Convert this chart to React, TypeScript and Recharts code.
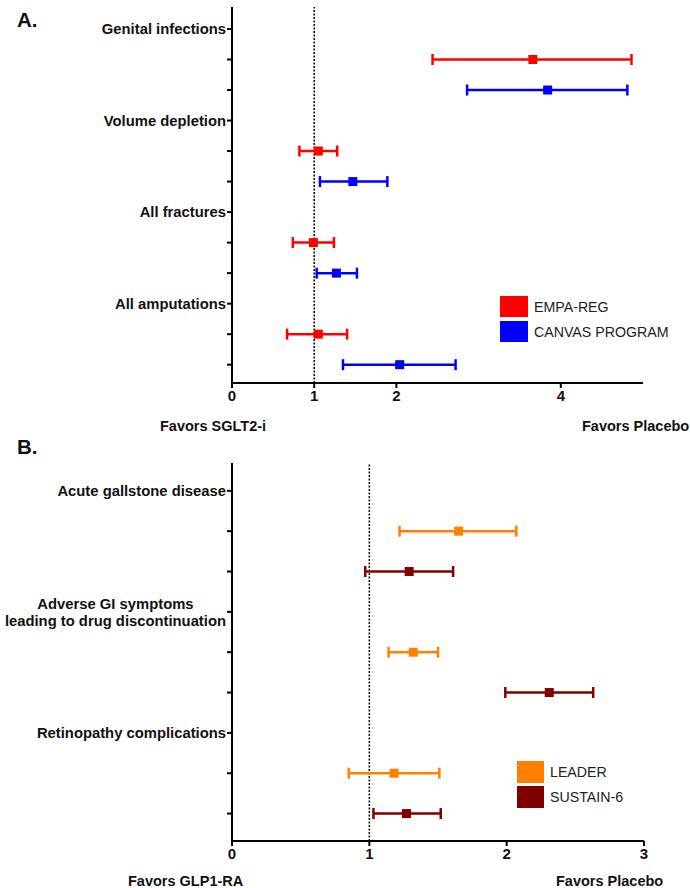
import { ScatterChart, Scatter, XAxis, YAxis, ErrorBar, ReferenceLine } from "recharts";

const FONT = '"Liberation Sans", Arial, sans-serif';
const INK = "#111";

// Panel A: SGLT2 inhibitors (rows counted top to bottom)
const rowsA = [
  "Genital infections", "", "",
  "Volume depletion", "", "",
  "All fractures", "", "",
  "All amputations", "", "",
];
const xTicksA = [0, 1, 2, 4];
const empaRows = [1, 4, 7, 10];
const empaOR = [3.66, 1.05, 0.99, 1.05];
const empaLow = [2.44, 0.82, 0.74, 0.67];
const empaHigh = [4.86, 1.28, 1.24, 1.4];
const canvasRows = [2, 5, 8, 11];
const canvasOR = [3.84, 1.47, 1.27, 2.04];
const canvasLow = [2.86, 1.07, 1.03, 1.35];
const canvasHigh = [4.81, 1.89, 1.52, 2.72];

// Panel B: GLP1 receptor agonists
const rowsB = [
  "Acute gallstone disease", "", "",
  "Adverse GI symptoms\nleading to drug discontinuation", "", "",
  "Retinopathy complications", "", "",
];
const xTicksB = [0, 1, 2, 3];
const leaderRows = [1, 4, 7];
const leaderOR = [1.65, 1.32, 1.18];
const leaderLow = [1.22, 1.14, 0.85];
const leaderHigh = [2.07, 1.5, 1.51];
const sustainRows = [2, 5, 8];
const sustainOR = [1.29, 2.31, 1.27];
const sustainLow = [0.97, 1.99, 1.03];
const sustainHigh = [1.61, 2.63, 1.52];

const toPoints = (rows: number[], or: number[], lo: number[], hi: number[]) =>
  rows.map((row, i) => ({ row, or: or[i], err: [or[i] - lo[i], hi[i] - or[i]] }));

type Series = { name: string; color: string; data: { row: number; or: number; err: number[] }[] };

const seriesA: Series[] = [
  { name: "EMPA-REG", color: "#ff0000", data: toPoints(empaRows, empaOR, empaLow, empaHigh) },
  { name: "CANVAS PROGRAM", color: "#0000ff", data: toPoints(canvasRows, canvasOR, canvasLow, canvasHigh) },
];
const seriesB: Series[] = [
  { name: "LEADER", color: "#ff8000", data: toPoints(leaderRows, leaderOR, leaderLow, leaderHigh) },
  { name: "SUSTAIN-6", color: "#800000", data: toPoints(sustainRows, sustainOR, sustainLow, sustainHigh) },
];

let ctx: CanvasRenderingContext2D | null = null;
function textWidth(s: string, font: string) {
  if (!ctx) ctx = document.createElement("canvas").getContext("2d");
  if (!ctx) return s.length * 8;
  ctx.font = font;
  return ctx.measureText(s).width;
}

const LABEL_SIZE = 14.8;

function RowTick(props: any) {
  const { x, y, payload, labels } = props;
  const text: string = labels[payload.value] ?? "";
  if (!text) return null;
  const lines = text.split("\n");
  const style = { fontSize: LABEL_SIZE, fontWeight: "bold" as const, fill: INK, fontFamily: FONT };
  if (lines.length === 1) {
    return (
      <text x={x} y={y} dy="0.36em" textAnchor="end" {...style}>
        {text}
      </text>
    );
  }
  const w = Math.max(...lines.map((l) => textWidth(l, `bold ${LABEL_SIZE}px ${FONT}`)));
  const cx = x - w / 2;
  const lh = 17;
  const y0 = y - ((lines.length - 1) * lh) / 2;
  return (
    <text textAnchor="middle" {...style}>
      {lines.map((l, i) => (
        <tspan key={i} x={cx} y={y0 + i * lh} dy="0.36em">
          {l}
        </tspan>
      ))}
    </text>
  );
}

function Panel({
  height,
  margin,
  rows,
  xDomain,
  xTicks,
  yDomain,
  series,
}: {
  height: number;
  margin: { top: number; right: number; left: number; bottom: number };
  rows: string[];
  xDomain: [number, number];
  xTicks: number[];
  yDomain: [number, number];
  series: Series[];
}) {
  return (
    <ScatterChart width={690} height={height} margin={margin} style={{ fontFamily: FONT }}>
      <XAxis
        type="number"
        dataKey="or"
        domain={xDomain}
        ticks={xTicks}
        allowDataOverflow
        height={30}
        tickSize={5}
        tickMargin={2}
        axisLine={{ stroke: "#000", strokeWidth: 2 }}
        tickLine={{ stroke: "#000", strokeWidth: 2 }}
        tick={{ fill: INK, fontSize: 15, fontWeight: "bold" }}
      />
      <YAxis
        type="number"
        dataKey="row"
        domain={yDomain}
        ticks={rows.map((_, i) => i)}
        interval={0}
        reversed
        allowDataOverflow
        width={232}
        tickSize={5}
        tickMargin={1}
        axisLine={{ stroke: "#000", strokeWidth: 2 }}
        tickLine={{ stroke: "#000", strokeWidth: 2 }}
        tick={(p: any) => <RowTick {...p} labels={rows} />}
      />
      <ReferenceLine x={1} stroke="#000" strokeWidth={1.5} strokeDasharray="2 1.5" />
      {series.map((s) => (
        <Scatter
          key={s.name}
          name={s.name}
          data={s.data}
          isAnimationActive={false}
          shape={(p: any) => <rect x={p.cx - 4.5} y={p.cy - 4.5} width={9} height={9} fill={s.color} />}
        >
          <ErrorBar
            dataKey="err"
            direction="x"
            width={5.5}
            strokeWidth={2.5}
            stroke={s.color}
            isAnimationActive={false}
          />
        </Scatter>
      ))}
    </ScatterChart>
  );
}

function Legend({ series, left, top, box }: { series: Series[]; left: number; top: number; box: [number, number] }) {
  return (
    <div style={{ position: "absolute", left, top }}>
      {series.map((s) => (
        <div key={s.name} style={{ display: "flex", alignItems: "center", height: 25 }}>
          <div style={{ width: box[0], height: box[1], background: s.color }} />
          <span style={{ marginLeft: 6, fontSize: 14.2, color: "#222", fontFamily: FONT }}>{s.name}</span>
        </div>
      ))}
    </div>
  );
}

const bold = (size: number) => ({
  position: "absolute" as const,
  fontFamily: FONT,
  fontWeight: "bold" as const,
  fontSize: size,
  color: INK,
  whiteSpace: "nowrap" as const,
});

export default function App() {
  return (
    <div style={{ position: "absolute", left: 0, top: 0, width: 690, height: 888, background: "#fff", overflow: "hidden" }}>
      <div style={{ position: "absolute", left: 0, top: 0 }}>
        <Panel
          height={440}
          margin={{ top: 7, right: 47, left: 0, bottom: 27 }}
          rows={rowsA}
          xDomain={[0, 5]}
          xTicks={xTicksA}
          yDomain={[-0.72, 11.6]}
          series={seriesA}
        />
      </div>
      <div style={{ position: "absolute", left: 0, top: 440 }}>
        <Panel
          height={448}
          margin={{ top: 23, right: 46, left: 0, bottom: 17 }}
          rows={rowsB}
          xDomain={[0, 3]}
          xTicks={xTicksB}
          yDomain={[-0.69, 8.68]}
          series={seriesB}
        />
      </div>
      <div style={{ ...bold(20.5), left: 17, top: 8, lineHeight: "24px" }}>A.</div>
      <div style={{ ...bold(20.5), left: 17, top: 435, lineHeight: "24px" }}>B.</div>
      <div style={{ ...bold(14.5), left: 160, top: 420, lineHeight: "12px" }}>Favors SGLT2-i</div>
      <div style={{ ...bold(14.5), left: 582, top: 420, lineHeight: "12px" }}>Favors Placebo</div>
      <div style={{ ...bold(14.5), left: 128, top: 875, lineHeight: "12px" }}>Favors GLP1-RA</div>
      <div style={{ ...bold(14.5), left: 556, top: 875, lineHeight: "12px" }}>Favors Placebo</div>
      <Legend series={seriesA} left={500} top={294} box={[28, 21]} />
      <Legend series={seriesB} left={517} top={759} box={[27, 22]} />
    </div>
  );
}
